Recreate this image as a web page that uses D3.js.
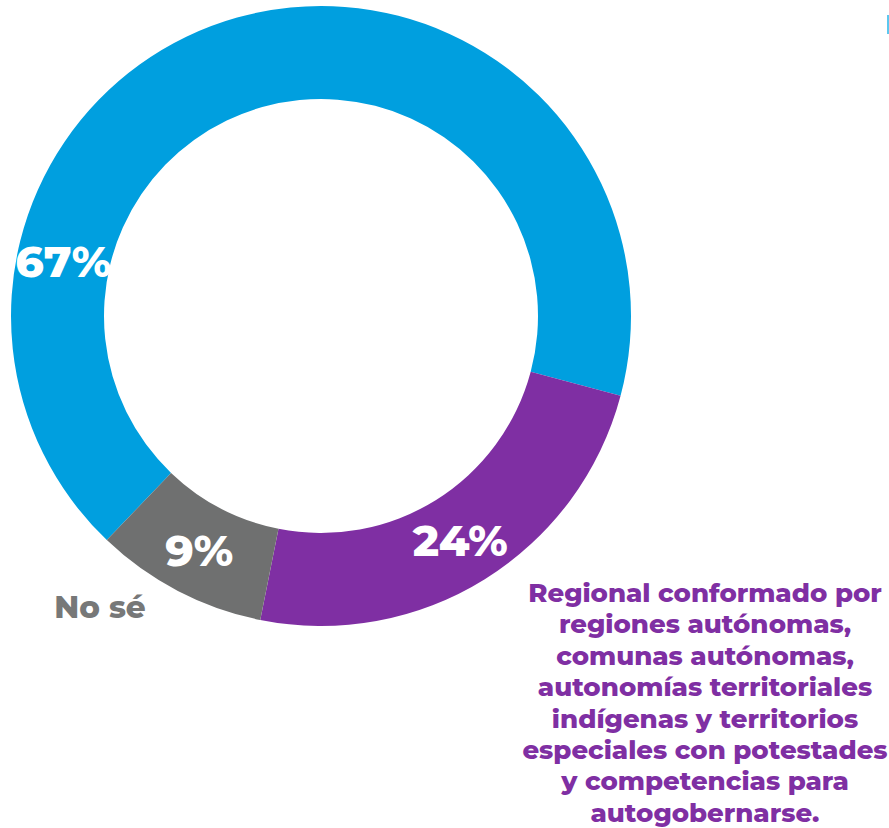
<!DOCTYPE html>
<html><head><meta charset="utf-8">
<script src="https://cdn.jsdelivr.net/npm/d3@7"></script>
<style>
html,body{margin:0;padding:0;background:#fff;}
svg{display:block;}
text{font-family:"Montserrat","Open Sans","Noto Sans",sans-serif;font-weight:800;}
</style></head>
<body>
<script>
const categories = ["Sí", "Regional", "No sé"];
const values = [67, 24, 9];
const valueLabels = ["67%", "24%", "9%"];
const colors = ["#009FDF", "#7F2FA3", "#6F7070"];
const descriptionLines = [
  "Regional conformado por",
  "regiones autónomas,",
  "comunas autónomas,",
  "autonomías territoriales",
  "indígenas y territorios",
  "especiales con potestades",
  "y competencias para",
  "autogobernarse."
];

const W = 889, H = 828;
const cx = 321, cy = 316, R = 310, r = 217;
const svg = d3.select("body").append("svg").attr("width", W).attr("height", H);
const g = svg.append("g").attr("transform", `translate(${cx},${cy})`);

const start = -136.3 * Math.PI / 180;
const pie = d3.pie().sort(null).startAngle(start).endAngle(start + 2 * Math.PI);
const arcs = pie(values);
const arc = d3.arc().innerRadius(r).outerRadius(R);

g.selectAll("path").data(arcs).enter().append("path")
  .attr("d", arc).attr("fill", (d, i) => colors[i]);

const labelArc = d3.arc().innerRadius((R + r) / 2).outerRadius((R + r) / 2);
g.selectAll("text.val").data(arcs).enter().append("text")
  .attr("class", "val")
  .attr("transform", (d, i) => {
    let c;
    if (i === 0) {
      const a = 282 * Math.PI / 180;
      c = labelArc.centroid({startAngle: a, endAngle: a});
    } else c = labelArc.centroid(d);
    return `translate(${c[0]},${c[1]})`;
  })
  .attr("text-anchor", "middle").attr("dy", "0.36em")
  .attr("font-size", 44).attr("fill", "#fff")
  .text((d, i) => valueLabels[i]);

svg.append("text").attr("x", 100).attr("y", 618).attr("text-anchor", "middle")
  .attr("font-size", 31).attr("fill", "#777878").text(categories[2]);

const desc = svg.append("text").attr("text-anchor", "middle")
  .attr("font-size", 26).attr("fill", "#7F2FA3");
descriptionLines.forEach((t, i) => {
  desc.append("tspan").attr("x", 705).attr("y", 602 + i * 31.4).text(t);
});

svg.append("rect").attr("x", 887).attr("y", 15).attr("width", 2).attr("height", 19).attr("fill", "#5BC8F0");
</script>
</body></html>
